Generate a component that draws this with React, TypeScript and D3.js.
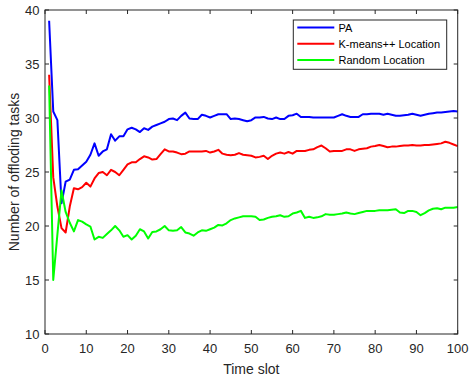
import React from "react";
import * as d3 from "d3";

const seriesNames = ["PA", "K-means++ Location", "Random Location"];
const seriesColors = ["#0000ff", "#ff0000", "#00ff00"];

const paValues = [
  39.0, 30.6, 29.8, 22.1, 24.1, 24.3, 25.2, 25.25, 25.6, 25.95,
  26.6, 27.65, 26.5, 26.9, 27.1, 28.5, 27.9, 28.3, 28.3, 28.95,
  29.1, 28.95, 28.7, 29.05, 28.9, 29.2, 29.35, 29.5, 29.65, 29.9,
  29.95, 29.8, 30.2, 30.5, 29.95, 29.9, 29.9, 30.3, 30.2, 30.05,
  30.2, 30.35, 30.35, 30.35, 29.9, 29.95, 29.9, 29.8, 29.7, 29.8,
  30.05, 30.05, 30.1, 29.95, 29.9, 30.05, 29.9, 29.9, 30.2, 30.25,
  30.4, 30.1, 30.1, 30.1, 30.05, 30.05, 30.05, 30.05, 30.05, 30.05,
  30.2, 30.35, 30.2, 30.1, 30.1, 30.1, 30.35, 30.35, 30.4, 30.4,
  30.4, 30.3, 30.4, 30.3, 30.2, 30.2, 30.25, 30.3, 30.4, 30.3,
  30.2, 30.3, 30.4, 30.45, 30.5, 30.5, 30.55, 30.6, 30.65, 30.6,
];

const kmeansValues = [
  34.0, 24.5, 21.8, 19.8, 19.4, 21.8, 23.5, 23.4, 23.6, 24.0,
  23.65, 24.4, 24.9, 25.0, 24.7, 25.2, 25.0, 24.7, 25.2, 25.7,
  25.9, 25.9, 26.2, 26.45, 26.35, 26.15, 26.2, 26.65, 27.1, 26.9,
  26.9, 26.8, 26.65, 26.7, 26.9, 26.9, 26.9, 26.9, 26.95, 26.8,
  26.9, 27.05, 26.7, 26.6, 26.55, 26.6, 26.75, 26.6, 26.55, 26.5,
  26.35, 26.4, 26.5, 26.2, 26.5, 26.7, 26.8, 26.7, 26.85, 26.7,
  26.95, 26.95, 26.95, 27.05, 27.1, 27.3, 27.45, 27.2, 26.9, 26.95,
  26.95, 26.95, 27.1, 27.1, 26.95, 27.1, 27.15, 27.2, 27.35, 27.4,
  27.5, 27.4, 27.3, 27.35, 27.35, 27.4, 27.45, 27.45, 27.5, 27.45,
  27.45, 27.5, 27.5, 27.55, 27.6, 27.65, 27.8, 27.7, 27.55, 27.4,
];

const randomValues = [
  33.0, 15.0, 19.2, 23.3, 21.3, 20.3, 19.5, 20.55, 20.4, 20.15,
  19.95, 18.75, 19.0, 18.9, 19.25, 19.6, 20.0, 19.6, 19.0, 19.15,
  18.75, 19.1, 19.7, 19.5, 18.85, 19.45, 19.5, 19.7, 20.0, 19.6,
  19.55, 19.6, 19.9, 19.4, 19.3, 19.1, 19.4, 19.6, 19.55, 19.7,
  19.85, 20.1, 20.05, 20.25, 20.55, 20.7, 20.8, 20.9, 20.9, 20.9,
  20.85, 20.55, 20.6, 20.75, 20.85, 20.9, 21.0, 20.85, 20.9, 21.15,
  21.25, 21.4, 20.75, 20.85, 20.75, 20.8, 20.9, 21.1, 21.05, 21.05,
  21.1, 21.15, 21.25, 21.15, 21.1, 21.2, 21.3, 21.4, 21.4, 21.4,
  21.45, 21.45, 21.45, 21.5, 21.55, 21.25, 21.2, 21.4, 21.4, 21.3,
  21.0, 21.2, 21.45, 21.6, 21.65, 21.55, 21.7, 21.7, 21.7, 21.75,
];

const xTicks = [0, 10, 20, 30, 40, 50, 60, 70, 80, 90, 100];
const yTicks = [10, 15, 20, 25, 30, 35, 40];
const xLabel = "Time slot";
const yLabel = "Number of offloding tasks";

const W = 469;
const H = 378;
const L = 45;
const R = 457.7;
const T = 10;
const B = 334;
const FONT = "'Liberation Sans', Arial, sans-serif";
const AX = "#262626";

export default function App() {
  const x = d3.scaleLinear().domain([0, 100]).range([L, R]);
  const y = d3.scaleLinear().domain([10, 40]).range([B, T]);
  const allSeries = [paValues, kmeansValues, randomValues];
  const line = d3
    .line<number>()
    .x((_, i) => x(i + 1))
    .y((d) => y(d));

  const tick = 4;
  const legX = 293.3;
  const legY = 20;
  const legW = 153.4;
  const legH = 49.3;
  const rowY = [27.5, 43.8, 60.1];

  return (
    <svg
      width={W}
      height={H}
      style={{ position: "absolute", left: 0, top: 0, background: "#fff" }}
      fontFamily={FONT}
    >
      <rect x={0} y={0} width={W} height={H} fill="#fff" />
      <rect x={L} y={T} width={R - L} height={B - T} fill="#fff" />
      {allSeries.map((s, i) => (
        <path
          key={i}
          d={line(s) || ""}
          fill="none"
          stroke={seriesColors[i]}
          strokeWidth={2}
          strokeLinejoin="round"
        />
      ))}
      {/* box */}
      <rect x={L} y={T} width={R - L} height={B - T} fill="none" stroke={AX} strokeWidth={1} />
      {xTicks.map((t) => (
        <g key={"x" + t}>
          <line x1={x(t)} x2={x(t)} y1={B} y2={B - tick} stroke={AX} />
          <line x1={x(t)} x2={x(t)} y1={T} y2={T + tick} stroke={AX} />
          <text x={x(t)} y={352.5} fontSize={13} fill={AX} textAnchor="middle">
            {t}
          </text>
        </g>
      ))}
      {yTicks.map((t) => (
        <g key={"y" + t}>
          <line x1={L} x2={L + tick} y1={y(t)} y2={y(t)} stroke={AX} />
          <line x1={R} x2={R - tick} y1={y(t)} y2={y(t)} stroke={AX} />
          <text x={39.5} y={y(t) + 4.6} fontSize={13} fill={AX} textAnchor="end">
            {t}
          </text>
        </g>
      ))}
      <text x={(L + R) / 2} y={374} fontSize={14} fill={AX} textAnchor="middle">
        {xLabel}
      </text>
      <text
        transform={`translate(19,${(T + B) / 2}) rotate(-90)`}
        fontSize={14}
        fill={AX}
        textAnchor="middle"
      >
        {yLabel}
      </text>
      {/* legend */}
      <rect x={legX} y={legY} width={legW} height={legH} fill="#fff" stroke={AX} strokeWidth={1} />
      {seriesNames.map((n, i) => (
        <g key={n}>
          <line x1={297.3} x2={334.3} y1={rowY[i]} y2={rowY[i]} stroke={seriesColors[i]} strokeWidth={2} />
          <text x={338.5} y={rowY[i] + 4} fontSize={11} fill="#000">
            {n}
          </text>
        </g>
      ))}
    </svg>
  );
}
